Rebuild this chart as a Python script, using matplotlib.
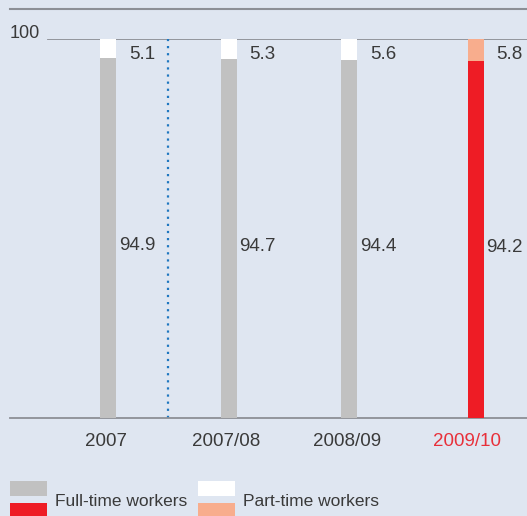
import numpy as np
import matplotlib.pyplot as plt
from matplotlib.patches import Rectangle
from matplotlib.lines import Line2D

plt.rcParams['font.family'] = ['Liberation Sans', 'DejaVu Sans']

# data
years = ['2007', '2007/08', '2008/09', '2009/10']
full_time = [94.9, 94.7, 94.4, 94.2]
part_time = [5.1, 5.3, 5.6, 5.8]

BG = '#dfe6f1'
GREY = '#c1c1c1'
RED = '#ee1c25'
SALMON = '#f8ad8d'
LINE = '#8c8f96'
TXT = '#3a3a3a'

W, H = 527, 516
fig = plt.figure(figsize=(W / 100, H / 100), dpi=100)
fig.patch.set_facecolor(BG)

# axes: x pixels 10..527, y pixels 418 (0) .. 39 (100)
ax = fig.add_axes([10 / W, (H - 418) / H, 517 / W, 379 / H])
ax.set_facecolor(BG)
unit = 120.5
xmin = -0.805
ax.set_xlim(xmin, xmin + 517 / unit)
ax.set_ylim(0, 100)

bar_x = np.arange(len(years)) + 0.01
bar_x[-1] += 0.05
tick_x = np.arange(len(years)) - 0.01
bw = 16 / unit

full_cols = [GREY, GREY, GREY, RED]
part_cols = ['white', 'white', 'white', SALMON]
ax.bar(bar_x, full_time, width=bw, color=full_cols, zorder=3)
ax.bar(bar_x, part_time, bottom=full_time, width=bw, color=part_cols, zorder=3)

for x, f, p in zip(bar_x, full_time, part_time):
    ax.text(x + 0.39, f / 2 - 2, f'{f:.1f}', ha='right', va='center',
            fontsize=13.5, color=TXT)
    ax.text(x + 0.39, 95.8, f'{p:.1f}', ha='right', va='center',
            fontsize=13.5, color=TXT)

# dotted separator
ax.plot([0.505, 0.505], [0, 100], linestyle=(0, (1, 2.2)), color='#1f77c0',
        lw=1.6, zorder=2)

# gridline at 100 and baseline
ax.axhline(100, xmin=(48 - 10) / 517, xmax=1, color=LINE, lw=1.3, zorder=1)
ax.text(-0.56, 100.3, '100', ha='right', va='baseline', fontsize=13, color=TXT)

for s in ['top', 'right', 'left']:
    ax.spines[s].set_visible(False)
ax.spines['bottom'].set_color(LINE)
ax.spines['bottom'].set_linewidth(1.3)
ax.set_yticks([])
ax.set_xticks(tick_x)
ax.set_xticklabels(years, fontsize=13.5)
ax.tick_params(axis='x', length=0, pad=11)
for lab in ax.get_xticklabels():
    lab.set_color(TXT)
ax.get_xticklabels()[-1].set_color('#e8303a')

# top rule
fig.add_artist(Line2D([10 / W, 1], [1 - 9 / H, 1 - 9 / H], color=LINE, lw=1.5))

# legend
def px_rect(x0, y0, x1, y1, color):
    fig.add_artist(Rectangle((x0 / W, 1 - y1 / H), (x1 - x0) / W, (y1 - y0) / H,
                             facecolor=color, edgecolor='none',
                             transform=fig.transFigure))

px_rect(10, 481, 47, 496, GREY)
px_rect(10, 503, 47, 516, RED)
px_rect(198, 481, 235, 496, 'white')
px_rect(198, 503, 235, 516, SALMON)
fig.text(55 / W, 1 - 501 / H, 'Full-time workers', ha='left', va='center',
         fontsize=12.5, color=TXT)
fig.text(243 / W, 1 - 501 / H, 'Part-time workers', ha='left', va='center',
         fontsize=12.5, color=TXT)

fig.savefig('out.png', dpi=100, facecolor=BG)
